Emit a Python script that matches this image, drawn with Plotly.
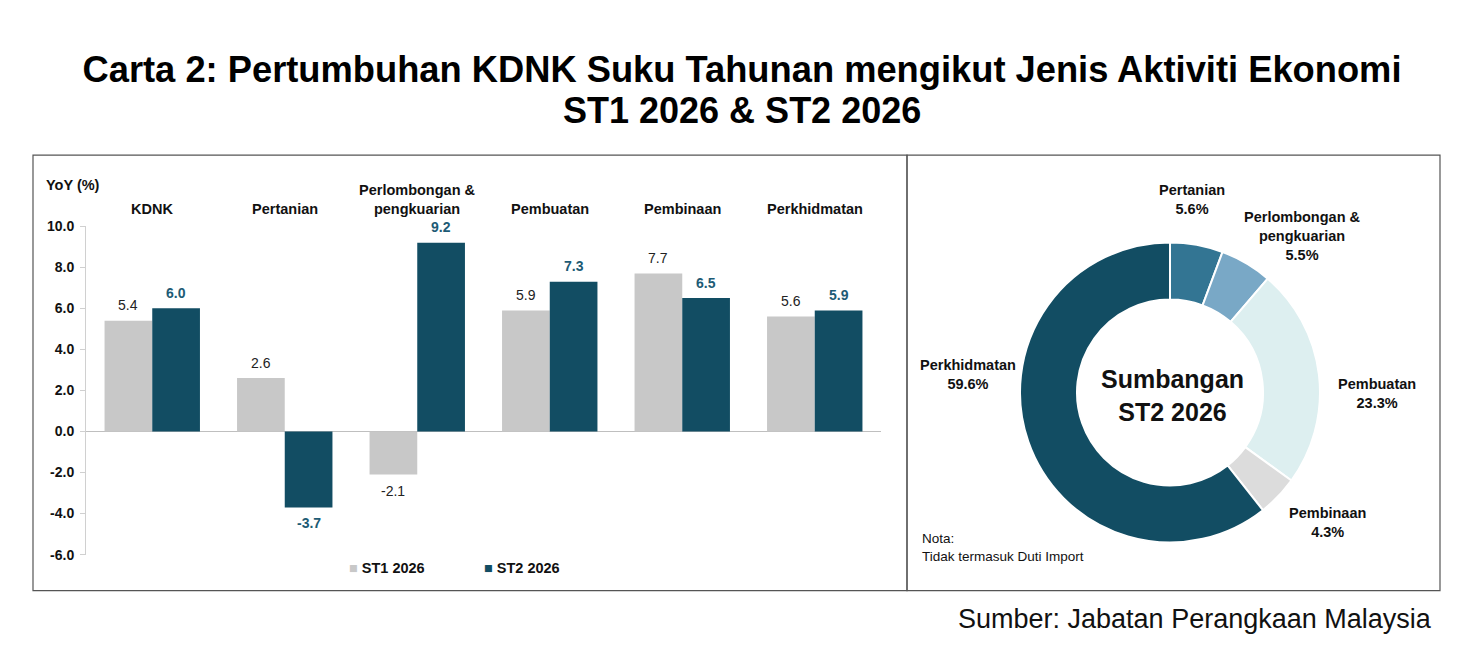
import plotly.graph_objects as go

# --- DATA ---
SECTORS = ['KDNK', 'Pertanian', 'Perlombongan &<br>pengkuarian', 'Pembuatan', 'Pembinaan', 'Perkhidmatan']
ST1_2026 = [5.4, 2.6, -2.1, 5.9, 7.7, 5.6]
ST2_2026 = [6.0, -3.7, 9.2, 7.3, 6.5, 5.9]
Y_TICKS = [-6, -4, -2, 0, 2, 4, 6, 8, 10]

SHARE_LABELS = ['Pertanian', 'Perlombongan &<br>pengkuarian', 'Pembuatan', 'Pembinaan', 'Perkhidmatan']
SHARE_ST2 = [5.6, 5.5, 23.3, 4.3, 59.6]

# --- STYLE ---
W, H = 1462, 670
FONT = 'Liberation Sans, Arial, sans-serif'
GREY = '#c8c8c8'
TEAL = '#124d63'
TEAL_TXT = '#1d5b75'
PIE_COLS = ['#337593', '#79a8c6', '#ddeff0', '#dcdcdc', '#124d63']
# where the donut labels sit (pixel centres)
PIE_LABEL_POS = [(1192, 199), (1302, 236), (1377, 393), (1327, 522), (968, 374)]


# pixel -> paper, with the page offset seen in the rendered picture
def X(x):
    return (x - 8) / W


def Y(y):
    return 1 - ((y - 16) / 0.975) / H


fig = go.Figure()

fig.add_trace(go.Bar(
    x=SECTORS, y=ST1_2026, name='ST1 2026', showlegend=False,
    marker=dict(color=GREY, line=dict(width=0)),
))
fig.add_trace(go.Bar(
    x=SECTORS, y=ST2_2026, name='ST2 2026', showlegend=False,
    marker=dict(color=TEAL, line=dict(width=0)),
))

# value labels, a little further off the bar ends than plotly's own text
series = [
    (ST1_2026, -24, dict(family=FONT, size=14, color='#222')),
    (ST2_2026, 24, dict(family=FONT, size=14, color=TEAL_TXT, weight='bold')),
]
for vals, dx, tf in series:
    for s, v in zip(SECTORS, vals):
        fig.add_annotation(
            x=s, y=v, xref='x', yref='y', xshift=dx, yshift=15.5 if v >= 0 else -16,
            yanchor='middle', text=f'{v:.1f}', showarrow=False, font=tf,
        )

fig.add_trace(go.Pie(
    labels=SHARE_LABELS, values=SHARE_ST2,
    sort=False, direction='clockwise', rotation=0,
    hole=0.62, textinfo='none',
    marker=dict(colors=PIE_COLS, line=dict(color='white', width=2)),
    showlegend=False,
    domain=dict(x=[X(1020), X(1320)], y=[Y(542), Y(242)]),
))

# donut labels
for lab, val, (lx, ly) in zip(SHARE_LABELS, SHARE_ST2, PIE_LABEL_POS):
    fig.add_annotation(
        x=X(lx), y=Y(ly), xref='paper', yref='paper', xanchor='center', yanchor='middle',
        text=f'<b>{lab}<br>{val:.1f}%</b>', showarrow=False,
        font=dict(family=FONT, size=14.5, color='#111'),
    )

# sector names above the bars
for s in SECTORS:
    fig.add_annotation(
        x=s, xref='x', y=Y(219), yref='paper', yanchor='bottom',
        text=f'<b>{s}</b>', showarrow=False,
        font=dict(family=FONT, size=14.5, color='#111'),
    )

# legend swatches
for name, col, lx in [('ST1 2026', GREY, 347), ('ST2 2026', TEAL, 482)]:
    fig.add_annotation(
        x=X(lx), y=Y(567), xref='paper', yref='paper', xanchor='left', yanchor='middle',
        text=f'<span style="color:{col}">■</span> <b>{name}</b>', showarrow=False,
        font=dict(family=FONT, size=14.5, color='#111'),
    )

notes = [
    dict(x=X(742), y=Y(110), text='<b>ST1 2026 & ST2 2026</b>', xanchor='center',
         font=dict(size=36, color='#000')),
    dict(x=X(44), y=Y(185), text='<b>YoY (%)</b>', xanchor='left', font=dict(size=14.5)),
    dict(x=X(1172), y=Y(395), text='<b>Sumbangan<br>ST2 2026</b>', xanchor='center',
         font=dict(size=25)),
    dict(x=X(920), y=Y(547), text='Nota:<br>Tidak termasuk Duti Import', xanchor='left',
         align='left', font=dict(size=13.5)),
    dict(x=X(1434), y=Y(618), text='Sumber: Jabatan Perangkaan Malaysia', xanchor='right',
         font=dict(size=27)),
]
for n in notes:
    f = dict(family=FONT, color='#111')
    f.update(n.pop('font'))
    fig.add_annotation(xref='paper', yref='paper', yanchor='middle', showarrow=False,
                       font=f, **n)

# frames
for x0, x1 in [(33, 907), (907, 1440)]:
    fig.add_shape(type='rect', xref='paper', yref='paper',
                  x0=X(x0), x1=X(x1), y0=Y(590), y1=Y(155),
                  line=dict(color='#555', width=1.2))

fig.update_layout(
    width=W, height=H,
    margin=dict(l=0, r=0, t=0, b=0),
    paper_bgcolor='white', plot_bgcolor='white',
    font=dict(family=FONT, color='#111'),
    title=dict(
        text='<b>Carta 2: Pertumbuhan KDNK Suku Tahunan mengikut Jenis Aktiviti Ekonomi</b>',
        x=X(742), xanchor='center', y=Y(76), yanchor='middle',
        font=dict(family=FONT, size=36.3, color='#000'),
    ),
    barmode='group', bargap=0.28, bargroupgap=0,
    xaxis=dict(domain=[X(86), X(881)], showticklabels=False, showgrid=False,
               showline=False, ticks='', zeroline=False),
    yaxis=dict(domain=[Y(554), Y(226)], range=[-6, 10], tickvals=Y_TICKS,
               ticktext=[f'{v:.1f}' for v in Y_TICKS],
               showgrid=False, zeroline=True, zerolinecolor='#bfbfbf',
               zerolinewidth=1.2, showline=True, linecolor='#d0d0d0', ticks='outside',
               ticklen=5, tickcolor='#d0d0d0', ticklabelstandoff=3,
               tickfont=dict(family=FONT, size=14, color='#111', weight='bold')),
)

fig.write_html('out.html')
